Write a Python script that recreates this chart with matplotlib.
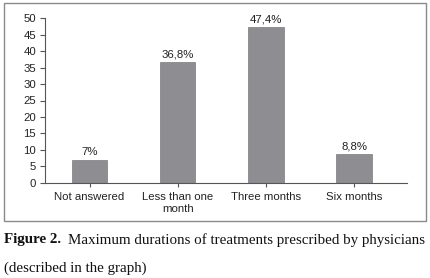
import matplotlib
matplotlib.use("Agg")
import matplotlib.pyplot as plt
from matplotlib.patches import Rectangle

categories = ["Not answered", "Less than one\nmonth", "Three months", "Six months"]
values = [7.0, 36.8, 47.4, 8.8]
value_labels = ["7%", "36,8%", "47,4%", "8,8%"]
yticks = [0, 5, 10, 15, 20, 25, 30, 35, 40, 45, 50]

W, H = 430, 278
fig = plt.figure(figsize=(W / 100, H / 100), dpi=100)
fig.patch.set_facecolor("white")

# frame around chart
fig.patches.append(Rectangle((3.5 / W, 1 - 221 / H), (426 - 3.5) / W, (221 - 2.5) / H,
                             transform=fig.transFigure, fill=False,
                             edgecolor="#8a8a8a", linewidth=1.0))

ax = fig.add_axes([45 / W, 1 - 182.7 / H, (407 - 45) / W, (182.7 - 18.3) / H])
x = list(range(len(categories)))
ax.bar(x, values, width=0.4, color="#8e8e92", edgecolor="#7a7a7e", linewidth=0.5, zorder=2)
ax.set_xlim(-0.505, 3.6)
ax.set_ylim(0, 50)
ax.set_yticks(yticks)
ax.set_yticklabels([str(t) for t in yticks])
ax.set_xticks(x)
ax.set_xticklabels(categories)

for s in ["top", "right"]:
    ax.spines[s].set_visible(False)
for s in ["left", "bottom"]:
    ax.spines[s].set_color("#555555")
    ax.spines[s].set_linewidth(0.8)

font = "Liberation Sans"
fs = 8.2
ax.tick_params(axis="y", length=3.5, width=0.8, color="#555555", pad=3,
               labelsize=fs, labelcolor="#222222")
ax.tick_params(axis="x", length=3, width=0.8, color="#555555", pad=3.5,
               labelsize=fs, labelcolor="#222222")
for lab in ax.get_xticklabels() + ax.get_yticklabels():
    lab.set_fontfamily(font)
for lab in ax.get_xticklabels():
    lab.set_linespacing(1.3)

for xi, v, t in zip(x, values, value_labels):
    ax.text(xi, v + 0.8, t, ha="center", va="bottom", fontsize=fs,
            family=font, color="#222222")

cfs = 10.8
t1 = fig.text(3.5 / W, 1 - 240 / H, "Figure 2.", fontsize=cfs, family="Liberation Serif",
              fontweight="bold", va="center", ha="left", color="#111111")
fig.canvas.draw()
bb = t1.get_window_extent()
fig.text(bb.x1 / W + 7 / W, 1 - 240 / H, "Maximum durations of treatments prescribed by physicians",
         fontsize=cfs, family="Liberation Serif", va="center", ha="left", color="#111111")
fig.text(3.5 / W, 1 - 268 / H, "(described in the graph)", fontsize=cfs,
         family="Liberation Serif", va="center", ha="left", color="#111111")

fig.savefig("out.png", dpi=100)
